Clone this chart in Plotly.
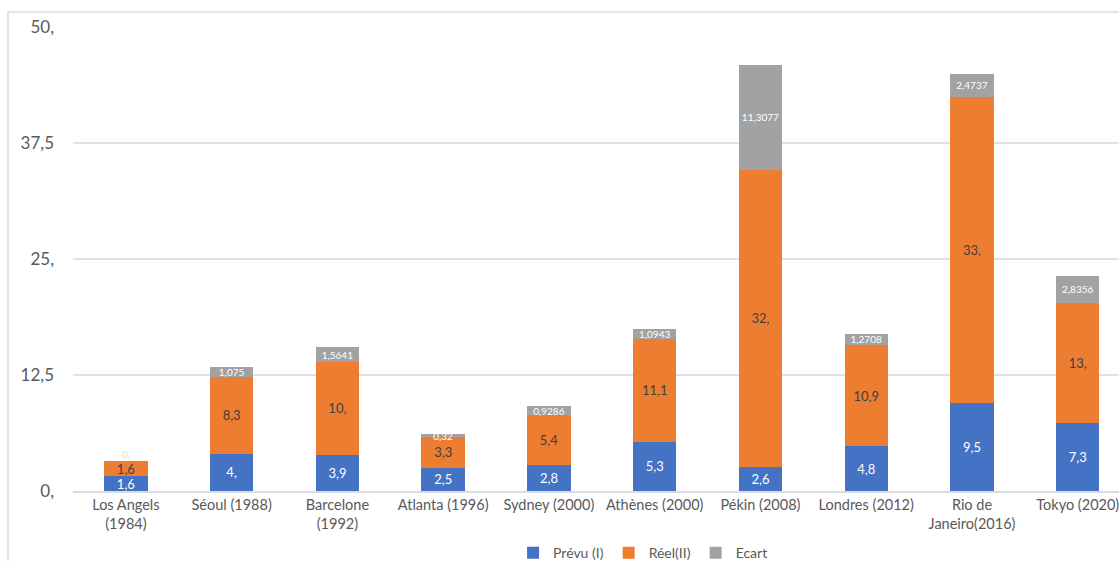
import plotly.graph_objects as go

categories = ["Los Angels<br>(1984)", "Séoul (1988)", "Barcelone<br>(1992)", "Atlanta (1996)",
              "Sydney (2000)", "Athènes (2000)", "Pékin (2008)", "Londres (2012)",
              "Rio de<br>Janeiro(2016)", "Tokyo (2020)"]
prevu = [1.6, 4, 3.9, 2.5, 2.8, 5.3, 2.6, 4.8, 9.5, 7.3]
reel = [1.6, 8.3, 10, 3.3, 5.4, 11.1, 32, 10.9, 33, 13]
ecart = [0, 1.075, 1.5641, 0.32, 0.9286, 1.0943, 11.3077, 1.2708, 2.4737, 2.8356]
y_ticks = [0, 12.5, 25, 37.5, 50]


def fmt(v):
    s = f"{v:g}".replace(".", ",")
    if "," not in s:
        s += ","
    return s


FONT = "Lato, 'Open Sans', sans-serif"
idx = list(range(len(categories)))

fig = go.Figure()
series = [
    ("Prévu (I)", prevu, "#4472C4", "white", 13),
    ("Réel(II)", reel, "#ED7D31", "#404040", 13),
    ("Ecart", ecart, "#A2A2A2", "white", 10),
]
for name, vals, col, tcol, tsize in series:
    fig.add_trace(go.Bar(
        x=idx, y=vals, name=name, width=0.41,
        marker=dict(color=col, line=dict(width=0)),
        text=[fmt(v) for v in vals], textposition="inside",
        insidetextanchor="middle", textangle=0, constraintext="none",
        textfont=dict(color=tcol, size=tsize, family=FONT),
        cliponaxis=False,
    ))

# zero-height "Ecart" label for Los Angeles
fig.add_annotation(x=0, y=prevu[0] + reel[0] + ecart[0], xref="x", yref="y",
                   text=fmt(ecart[0]), showarrow=False, yshift=7,
                   font=dict(color="#F3D2BC", size=10, family=FONT))

# chart border
fig.add_shape(type="rect", xref="paper", yref="paper",
              x0=(8 - 73) / 1046, x1=1.2, y0=-0.2, y1=(491 - 12) / 464,
              line=dict(color="#D9DDE3", width=1.5), fillcolor="rgba(0,0,0,0)", layer="below")

fig.update_layout(
    width=1119, height=561,
    barmode="stack",
    paper_bgcolor="white", plot_bgcolor="white",
    margin=dict(l=73, r=0, t=27, b=70, autoexpand=False),
    font=dict(family=FONT, color="#595959"),
    xaxis=dict(range=[-0.5, 9.39], tickvals=idx, ticktext=categories, automargin=False,
               ticklabeloverflow="allow",
               showgrid=False, showline=True, linecolor="#D9DDE3", linewidth=2,
               ticks="", tickfont=dict(size=14.5, color="#595959")),
    yaxis=dict(range=[0, 50], tickvals=y_ticks, ticktext=[fmt(v) for v in y_ticks],
               automargin=False, ticklabeloverflow="allow",
               showgrid=True, gridcolor="#DEE2E8", gridwidth=1.5, zeroline=False,
               ticks="", ticklabelstandoff=18,
               tickfont=dict(size=17, color="#595959")),
    legend=dict(orientation="h", x=0.545, xanchor="center", y=-0.134, yanchor="middle",
                font=dict(size=14, color="#595959"), itemwidth=30,
                traceorder="normal"),
    showlegend=True,
)

fig.write_html(
    "out.html",
    config={"displayModeBar": False},
    post_script="document.body.style.margin='0';document.body.style.overflow='hidden';",
)
